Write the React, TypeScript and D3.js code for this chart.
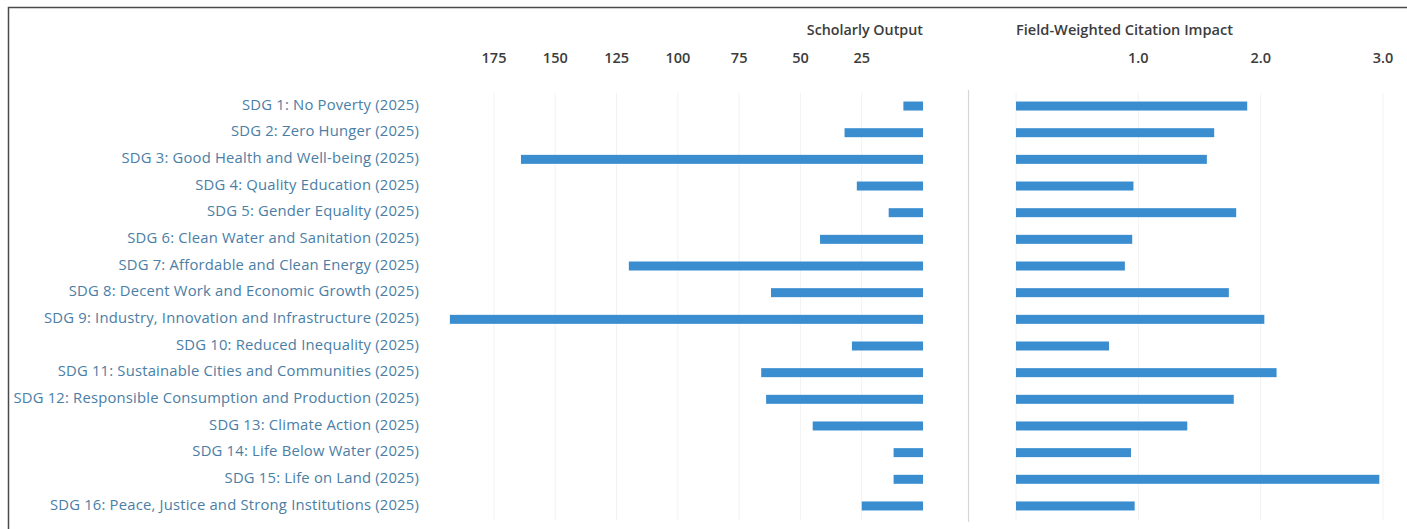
import React from "react";
import * as d3 from "d3";

const categories = [
  "SDG 1: No Poverty (2025)",
  "SDG 2: Zero Hunger (2025)",
  "SDG 3: Good Health and Well-being (2025)",
  "SDG 4: Quality Education (2025)",
  "SDG 5: Gender Equality (2025)",
  "SDG 6: Clean Water and Sanitation (2025)",
  "SDG 7: Affordable and Clean Energy (2025)",
  "SDG 8: Decent Work and Economic Growth (2025)",
  "SDG 9: Industry, Innovation and Infrastructure (2025)",
  "SDG 10: Reduced Inequality (2025)",
  "SDG 11: Sustainable Cities and Communities (2025)",
  "SDG 12: Responsible Consumption and Production (2025)",
  "SDG 13: Climate Action (2025)",
  "SDG 14: Life Below Water (2025)",
  "SDG 15: Life on Land (2025)",
  "SDG 16: Peace, Justice and Strong Institutions (2025)",
];

const scholarlyOutput = [8, 32, 164, 27, 14, 42, 120, 62, 193, 29, 66, 64, 45, 12, 12, 25];
const fwci = [1.89, 1.62, 1.56, 0.96, 1.8, 0.95, 0.89, 1.74, 2.03, 0.76, 2.13, 1.78, 1.4, 0.94, 2.97, 0.97];

const outputTicks = [175, 150, 125, 100, 75, 50, 25];
const fwciTicks = [1, 2, 3];

const W = 1407;
const H = 529;
const FONT = "'Open Sans', 'DejaVu Sans', sans-serif";
const BAR = "#3a8dcf";
const LABEL = "#4a7ea5";
const DARK = "#3c3c3c";

export default function App() {
  const xL = d3.scaleLinear().domain([0, 175]).range([923, 494]);
  const xR = d3.scaleLinear().domain([0, 3]).range([1016, 1383]);
  const y = d3.scaleBand<string>().domain(categories).range([91.7, 518.3]);
  const step = y.step();
  const barH = 9;
  const gridTop = 93;
  const gridBottom = 520;

  return (
    <svg
      width={W}
      height={H}
      style={{ position: "absolute", left: 0, top: 0, background: "#fff" }}
      fontFamily={FONT}
    >
      {/* frame */}
      <path d={`M8.5,${H} L8.5,7.5 L${W},7.5`} fill="none" stroke="#4a4a4a" strokeWidth={1.5} />

      {/* gridlines */}
      {outputTicks.map((t) => (
        <line key={"gl" + t} x1={xL(t)} x2={xL(t)} y1={gridTop} y2={gridBottom} stroke="#f2f2f2" strokeWidth={1} />
      ))}
      {[0, ...fwciTicks].map((t) => (
        <line key={"gr" + t} x1={xR(t)} x2={xR(t)} y1={gridTop} y2={gridBottom} stroke="#f2f2f2" strokeWidth={1} />
      ))}

      {/* separator */}
      <line x1={968.5} x2={968.5} y1={90} y2={522} stroke="#d6d6d6" strokeWidth={1.2} />

      {/* headers */}
      <text x={923} y={35} textAnchor="end" fontSize={14.3} fontWeight={600} fill={DARK}>
        Scholarly Output
      </text>
      <text x={1016} y={35} textAnchor="start" fontSize={14.6} fontWeight={600} fill={DARK}>
        Field-Weighted Citation Impact
      </text>

      {/* tick labels */}
      {outputTicks.map((t) => (
        <text key={"tl" + t} x={xL(t)} y={63} textAnchor="middle" fontSize={14.5} fontWeight={600} fill={DARK}>
          {t}
        </text>
      ))}
      {fwciTicks.map((t) => (
        <text key={"tr" + t} x={xR(t)} y={63} textAnchor="middle" fontSize={14.5} fontWeight={600} fill={DARK}>
          {d3.format(".1f")(t)}
        </text>
      ))}

      {/* category labels */}
      {categories.map((c) => (
        <text
          key={"c" + c}
          x={419}
          y={(y(c) as number) + step / 2}
          dy="0.32em"
          textAnchor="end"
          fontSize={14.8}
          letterSpacing={0.2}
          fill={LABEL}
        >
          {c}
        </text>
      ))}

      {/* bars left */}
      {categories.map((c, i) => (
        <rect
          key={"bl" + c}
          x={xL(scholarlyOutput[i])}
          y={(y(c) as number) + step / 2 - barH / 2 + 1}
          width={xL(0) - xL(scholarlyOutput[i])}
          height={barH}
          fill={BAR}
        />
      ))}

      {/* bars right */}
      {categories.map((c, i) => (
        <rect
          key={"br" + c}
          x={xR(0)}
          y={(y(c) as number) + step / 2 - barH / 2 + 1}
          width={xR(fwci[i]) - xR(0)}
          height={barH}
          fill={BAR}
        />
      ))}
    </svg>
  );
}
